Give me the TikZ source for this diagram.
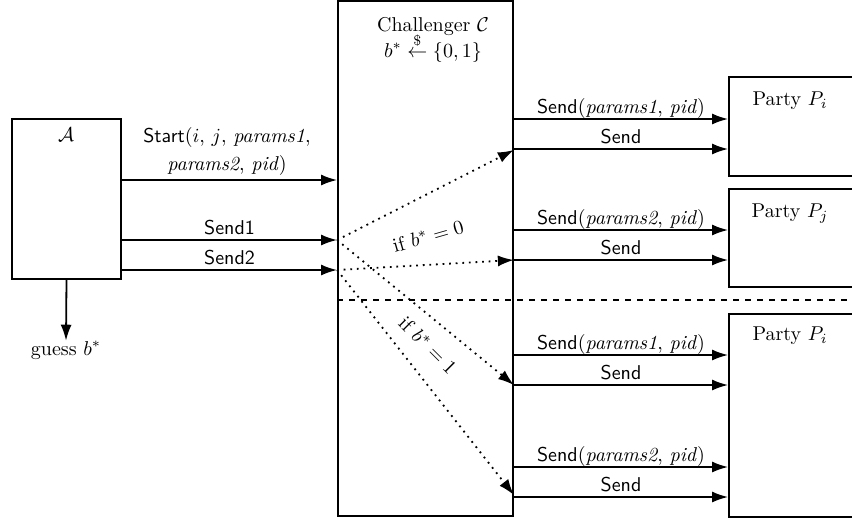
\documentclass[tikz,border=0pt]{standalone}
\usepackage{amsmath}
\usetikzlibrary{arrows.meta}
\begin{document}
\begin{tikzpicture}[x=0.5pt,y=-0.5pt,
  box/.style={draw, line width=0.9pt, inner sep=0pt},
  arr/.style={line width=0.9pt, -{Latex[length=8pt,width=5.5pt]}},
  dotarr/.style={arr, dash pattern=on 0.9pt off 2.4pt},
  txt/.style={anchor=base, inner sep=0pt}]
\useasboundingbox (0,0) rectangle (852,521);
\clip (0,0) rectangle (852,521);

% adversary, challenger and the parties
\node[box, minimum width=54.5pt, minimum height=80pt] (adv) at (66.5,199) {};
\node[box, minimum width=87.5pt, minimum height=257.5pt] (ch) at (425.5,258.5) {};
\node[box, minimum width=75pt, minimum height=49.5pt] (p1) at (804,126.5) {};
\node[box, minimum width=75pt, minimum height=49pt] (p2) at (804,238) {};
\node[box, minimum width=75pt, minimum height=101.5pt] (p3) at (804,415.5) {};

\node[inner sep=0pt] (advname) at (66,135) {$\mathcal{A}$};
\node[txt] (chname) at (433,31) {Challenger $\mathcal{C}$};
\node[txt] (chbit) at (433,57) {$b^* \stackrel{\$}{\leftarrow} \{0,1\}$};
\node[txt] (p1name) at (790,105) {Party $P_i$};
\node[txt] (p2name) at (790,217) {Party $P_j$};
\node[txt] (p3name) at (790,340) {Party $P_i$};

% adversary's guess
\node[txt] (guess) at (66,355) {guess $b^*$};
\draw[arr] (adv.south) -- (guess.north);

% adversary to challenger
\draw[arr] (adv.east |- 0,180) -- (ch.west |- 0,180);
\node[txt] (startA) at (227,142) {\textsf{Start}($i$, $j$, \textit{params1},};
\node[txt] (startB) at (227,170) {\textit{params2}, \textit{pid})};
\draw[arr] (adv.east |- 0,240) -- node[txt, pos=0.5, yshift=3pt] {\textsf{Send1}} (ch.west |- 0,240);
\draw[arr] (adv.east |- 0,270) -- node[txt, pos=0.5, yshift=3pt] {\textsf{Send2}} (ch.west |- 0,270);

% challenger to parties
\draw[arr] (ch.east |- 0,119) -- node[txt, yshift=3pt] {\textsf{Send}(\textit{params1}, \textit{pid})} (p1.west |- 0,119);
\draw[arr] (ch.east |- 0,149) -- node[txt, yshift=3pt] {\textsf{Send}} (p1.west |- 0,149);
\draw[arr] (ch.east |- 0,230) -- node[txt, yshift=3pt] {\textsf{Send}(\textit{params2}, \textit{pid})} (p2.west |- 0,230);
\draw[arr] (ch.east |- 0,260) -- node[txt, yshift=3pt] {\textsf{Send}} (p2.west |- 0,260);
\draw[arr] (ch.east |- 0,355) -- node[txt, yshift=3pt] {\textsf{Send}(\textit{params1}, \textit{pid})} (p3.west |- 0,355);
\draw[arr] (ch.east |- 0,385) -- node[txt, yshift=3pt] {\textsf{Send}} (p3.west |- 0,385);
\draw[arr] (ch.east |- 0,467) -- node[txt, yshift=3pt] {\textsf{Send}(\textit{params2}, \textit{pid})} (p3.west |- 0,467);
\draw[arr] (ch.east |- 0,497) -- node[txt, yshift=3pt] {\textsf{Send}} (p3.west |- 0,497);

% separation of the two worlds
\draw[dashed, line width=0.9pt] (ch.west |- 0,300) -- (870,300);

% forwarding inside the challenger
\draw[dotarr] (ch.west |- 0,240) -- (ch.east |- 0,150);
\draw[dotarr] (ch.west |- 0,270) -- (ch.east |- 0,260);
\draw[dotarr] (ch.west |- 0,240) -- (ch.east |- 0,385);
\draw[dotarr] (ch.west |- 0,270) -- (ch.east |- 0,495);
\node[rotate=16, inner sep=0pt] (if0) at (428,236) {if $b^* = 0$};
\node[rotate=-45, inner sep=0pt] (if1) at (428,345) {if $b^* = 1$};
\end{tikzpicture}
\end{document}
